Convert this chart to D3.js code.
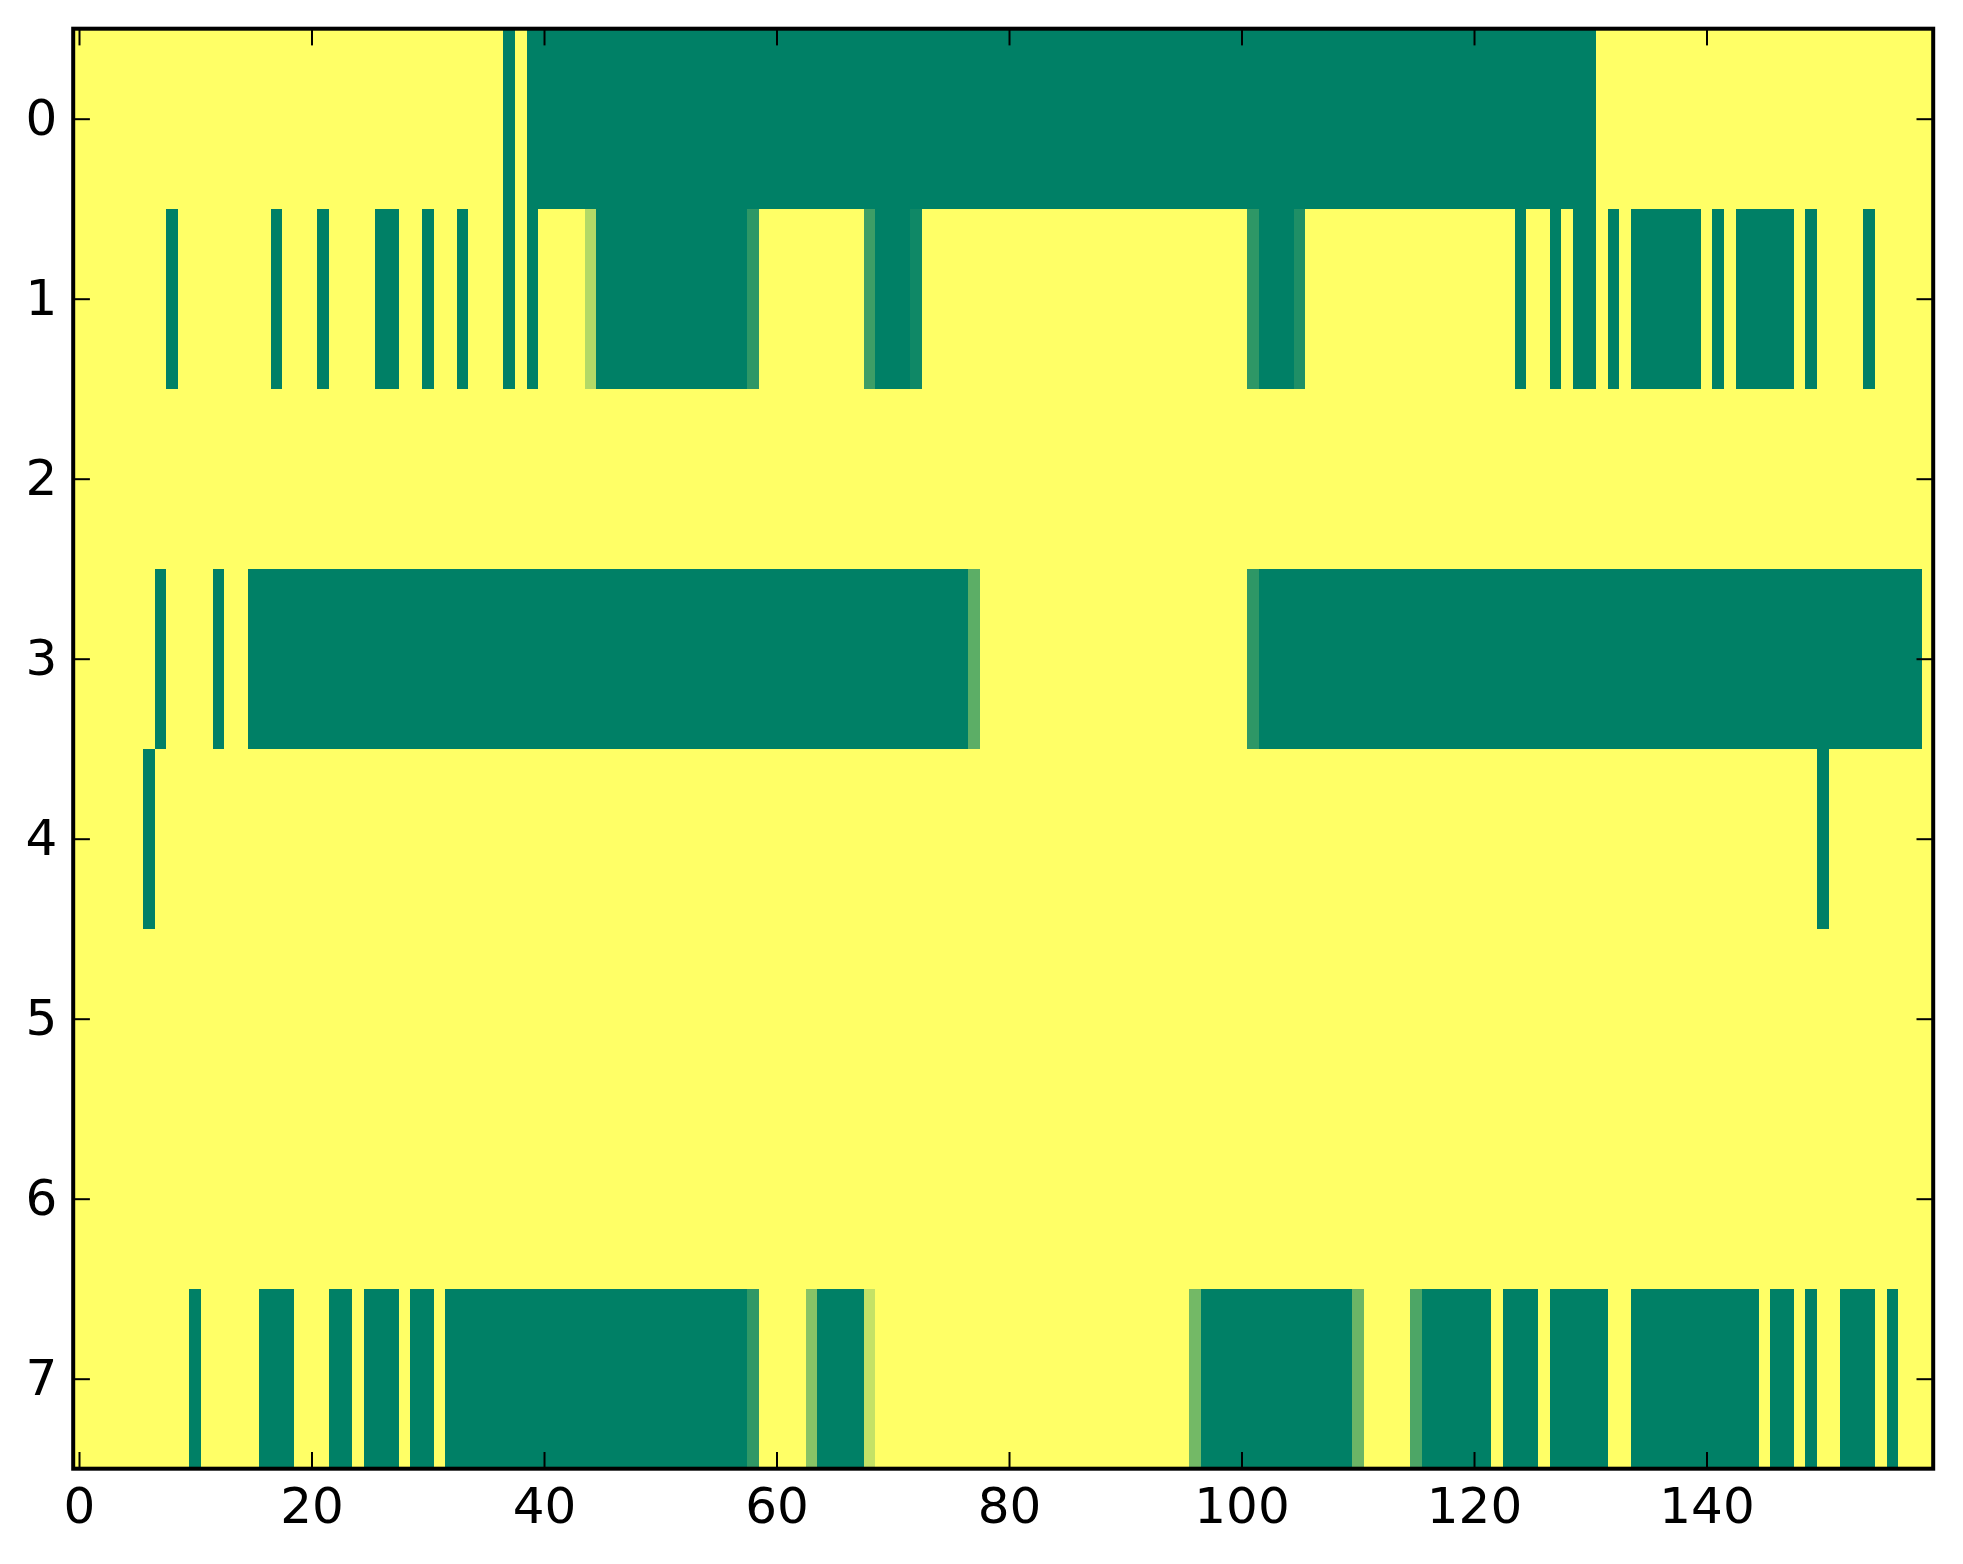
<!DOCTYPE html>
<html>
<head>
<meta charset="utf-8">
<script src="https://cdn.jsdelivr.net/npm/d3@7"></script>
<style>
  body { margin: 0; background: #ffffff; }
  svg { display: block; }
  .tick text { font-family: "DejaVu Sans", sans-serif; font-size: 50px; fill: #000000; }
</style>
</head>
<body>
<div id="chart"></div>
<script>

// data: each row lists its non-yellow runs as [firstCol, lastCol, value]
var nCols = 160;
var rowLabels = [0, 1, 2, 3, 4, 5, 6, 7];
var xTickValues = [0, 20, 40, 60, 80, 100, 120, 140];

var row0 = [[37, 37, 0], [39, 130, 0]];
var row1 = [[8, 8, 0], [17, 17, 0], [21, 21, 0], [26, 27, 0], [30, 30, 0], [33, 33, 0],
            [37, 37, 0], [39, 39, 0], [44, 44, 0.7], [45, 57, 0], [58, 58, 0.18],
            [68, 68, 0.24], [69, 71, 0], [72, 72, 0.06], [101, 101, 0.18], [102, 104, 0],
            [105, 105, 0.12], [124, 124, 0], [127, 127, 0], [129, 130, 0], [132, 132, 0],
            [134, 139, 0], [141, 141, 0], [143, 147, 0], [149, 149, 0], [154, 154, 0]];
var row2 = [];
var row3 = [[7, 7, 0], [12, 12, 0], [15, 76, 0], [77, 77, 0.36], [101, 101, 0.18], [102, 158, 0]];
var row4 = [[6, 6, 0], [150, 150, 0]];
var row5 = [];
var row6 = [];
var row7 = [[10, 10, 0], [16, 18, 0], [22, 23, 0], [25, 27, 0], [29, 30, 0], [32, 57, 0],
            [58, 58, 0.19], [63, 63, 0.53], [64, 67, 0], [68, 68, 0.77], [96, 96, 0.45],
            [97, 109, 0], [110, 110, 0.42], [115, 115, 0.3], [116, 121, 0], [123, 125, 0],
            [127, 131, 0], [134, 144, 0], [146, 147, 0], [149, 149, 0], [152, 154, 0],
            [156, 156, 0]];

var rows = [row0, row1, row2, row3, row4, row5, row6, row7];

// expand runs into cells (everything else is 1 = yellow)
var cells = [];
rows.forEach(function(runs, r) {
	var vals = new Array(nCols).fill(1);
	runs.forEach(function(run) {
		for (var c = run[0]; c <= run[1]; c++) vals[c] = run[2];
	});
	vals.forEach(function(v, c) {
		cells.push({ row: r, col: c, value: v });
	});
});

// stage
var w = 1963,
    h = 1564;
var plotLeft = 73.2,
    plotTop = 28.7,
    plotRight = 1933.2,
    plotBottom = 1468.7;

var svg = d3.select("#chart")
	.append("svg")
	.attr("width", w)
	.attr("height", h)
	.style("background", "#ffffff");

var x = d3.scaleLinear().domain([-0.5, nCols - 0.5]).range([plotLeft, plotRight]);
var y = d3.scaleLinear().domain([-0.5, rows.length - 0.5]).range([plotTop, plotBottom]);

// matplotlib "summer" colormap
var color = d3.scaleLinear().domain([0, 1]).range(["#008066", "#ffff66"]);

svg.append("g")
	.attr("shape-rendering", "crispEdges")
	.selectAll("rect")
	.data(cells)
	.enter()
	.append("rect")
	.attr("x", function(d) { return x(d.col - 0.5); })
	.attr("y", function(d) { return y(d.row - 0.5); })
	.attr("width", function(d) { return x(d.col + 0.5) - x(d.col - 0.5) + 0.5; })
	.attr("height", function(d) { return y(d.row + 0.5) - y(d.row - 0.5) + 0.5; })
	.style("fill", function(d) { return color(d.value); });

// axes, ticks pointing inward on all four sides
var tickLen = 16.7;

function styleAxis(g) {
	g.select(".domain").remove();
	g.selectAll(".tick line").style("stroke", "#000000").style("stroke-width", 2);
}

svg.append("g")
	.attr("transform", "translate(0," + plotBottom + ")")
	.call(d3.axisBottom(x).tickValues(xTickValues).tickSize(-tickLen).tickPadding(19))
	.call(styleAxis);

svg.append("g")
	.attr("transform", "translate(0," + plotTop + ")")
	.call(d3.axisTop(x).tickValues(xTickValues).tickSize(-tickLen).tickFormat(""))
	.call(styleAxis);

svg.append("g")
	.attr("transform", "translate(" + plotLeft + ",0)")
	.call(d3.axisLeft(y).tickValues(rowLabels).tickSize(-tickLen).tickPadding(16))
	.call(styleAxis);

svg.append("g")
	.attr("transform", "translate(" + plotRight + ",0)")
	.call(d3.axisRight(y).tickValues(rowLabels).tickSize(-tickLen).tickFormat(""))
	.call(styleAxis);

// frame
svg.append("rect")
	.attr("x", plotLeft)
	.attr("y", plotTop)
	.attr("width", plotRight - plotLeft)
	.attr("height", plotBottom - plotTop)
	.style("fill", "none")
	.style("stroke", "#000000")
	.style("stroke-width", 4);

</script>
</body>
</html>
